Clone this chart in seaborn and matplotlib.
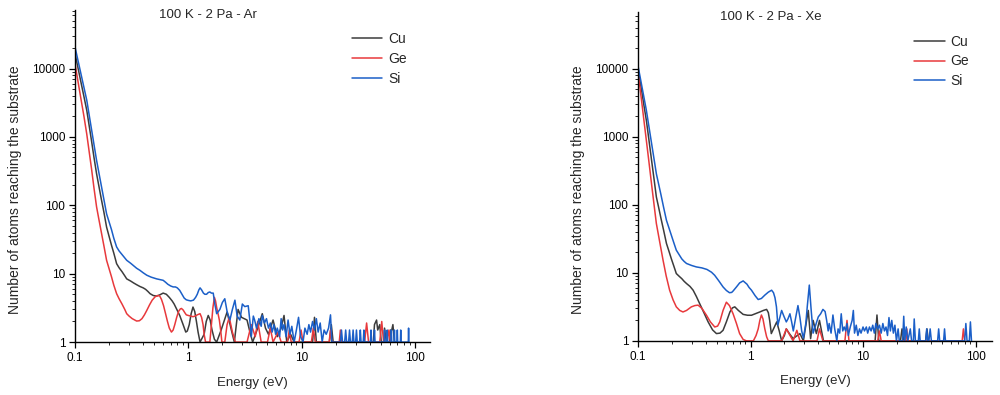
"""
Energy distribution of sputtered atoms reaching the substrate
100 K, 2 Pa, Ar vs Xe working gas
"""

import numpy as np
import pandas as pd
import matplotlib
matplotlib.use("Agg")
import matplotlib.pyplot as plt
from matplotlib.ticker import FuncFormatter, LogLocator, NullFormatter
import seaborn as sns

elements = ['Cu', 'Ge', 'Si']
colors = {'Cu': '#3c3c3c', 'Ge': '#e8393c', 'Si': '#1b5fc8'}
titles = ['100 K - 2 Pa - Ar', '100 K - 2 Pa - Xe']
x_ticks = [0.1, 1, 10, 100]
y_ticks = [1, 10, 100, 1000, 10000]

# ---- Ar panel ----
ar_cu_e = [0.1, 0.107, 0.113, 0.12, 0.127, 0.134, 0.14, 0.147, 0.155, 0.162,
           0.17, 0.18, 0.19, 0.2, 0.21, 0.22, 0.233, 0.245, 0.26, 0.275,
           0.286, 0.31, 0.33, 0.35, 0.374, 0.4, 0.42, 0.44, 0.46, 0.49,
           0.525, 0.56, 0.6, 0.64, 0.68, 0.72, 0.75, 0.8, 0.84, 0.9,
           0.95, 0.98, 1.02, 1.06, 1.1, 1.14, 1.18, 1.22, 1.27, 1.38,
           1.44, 1.5, 1.56, 1.62, 1.7, 1.78, 1.95, 2.2, 2.4, 2.55,
           2.75, 2.95, 3.3, 3.5, 3.7, 4.1, 4.5, 4.8, 5.1, 5.6,
           6.1, 6.6, 7.0, 7.4, 8.0, 8.6,
           12.5, 13.0, 13.5, 17.6, 18.3, 19.0,
           43, 44, 45.9, 47, 49, 50.5, 53, 54, 56, 60,
           61, 62.5, 64, 66, 70]
ar_cu_n = [16600, 9660, 6240, 3870, 2450, 1390, 870, 505, 290, 196,
           128, 79, 48, 35, 26, 20, 14, 12.2, 10.7, 9.3,
           8.4, 7.8, 7.3, 6.9, 6.5, 6.2, 5.9, 5.5, 5.1, 4.8,
           4.7, 4.9, 5.2, 5.0, 4.5, 4.0, 3.6, 2.9, 2.45, 1.8,
           1.4, 1.45, 1.8, 2.6, 3.25, 2.8, 2.0, 1.4, 1.0, 1.3,
           2.0, 2.45, 2.1, 1.5, 1.1, 1.0, 1.5, 2.75, 1.5, 1.0,
           3.0, 2.3, 2.1, 1.4, 1.0, 1.6, 2.6, 1.6, 1.3, 2.1,
           1.2, 1.6, 2.45, 1.0, 1.3, 1.0,
           1.0, 2.3, 1.0, 1.0, 1.8, 1.0,
           1.0, 1.8, 2.1, 1.5, 1.8, 1.0, 1.0, 1.6, 1.0, 1.0,
           1.5, 1.5, 1.8, 1.0, 1.0]

ar_ge_e = [0.1, 0.107, 0.113, 0.12, 0.127, 0.134, 0.14, 0.147, 0.155, 0.162,
           0.17, 0.18, 0.19, 0.2, 0.21, 0.22, 0.233, 0.245, 0.26, 0.275,
           0.286, 0.3, 0.32, 0.35, 0.37, 0.39, 0.41, 0.43, 0.455, 0.48,
           0.51, 0.54, 0.56, 0.58, 0.605, 0.63, 0.655, 0.68, 0.71, 0.735,
           0.76, 0.79, 0.82, 0.85, 0.87, 0.9, 0.93, 0.96, 1.0, 1.05,
           1.1, 1.15, 1.2, 1.27, 1.31, 1.35, 1.38, 1.42, 1.55, 1.6,
           1.65, 1.7, 1.74, 1.78, 1.83, 1.88, 1.93, 1.98, 2.1, 2.2,
           2.3, 2.45, 2.6, 3.3, 3.6, 3.9,
           4.1, 4.4, 5.0, 5.3, 5.6, 6.2, 6.6, 7.5, 7.8, 8.1,
           9.5, 9.9, 10.3, 12.2, 12.7, 13.2, 17.5, 18.0, 18.5, 21.5,
           22.0, 22.5, 36, 37.5, 39, 49, 51, 53, 57, 59,
           61]
ar_ge_n = [11800, 6050, 3550, 1990, 1100, 575, 340, 180, 95, 64,
           42, 25.5, 15.7, 11.8, 9.0, 6.8, 5.1, 4.3, 3.6, 3.0,
           2.6, 2.4, 2.2, 2.03, 2.05, 2.2, 2.5, 2.9, 3.5, 4.1,
           4.6, 4.8, 4.7, 4.2, 3.4, 2.6, 2.0, 1.6, 1.4, 1.5,
           1.8, 2.3, 2.8, 3.05, 3.1, 2.95, 2.7, 2.5, 2.45, 2.4,
           2.35, 2.4, 2.5, 2.6, 2.3, 1.8, 1.3, 1.0, 1.0, 1.8,
           3.2, 4.5, 4.0, 3.2, 2.6, 2.1, 1.5, 1.0, 1.0, 1.8,
           2.3, 1.4, 1.0, 1.0, 1.8, 1.2,
           2.0, 1.0, 1.0, 1.6, 1.0, 1.4, 1.0, 1.0, 1.5, 1.0,
           1.0, 1.5, 1.0, 1.0, 1.6, 1.0, 1.0, 1.5, 1.0, 1.0,
           1.5, 1.0, 1.0, 1.9, 1.0, 1.0, 2.0, 1.0, 1.0, 1.5,
           1.0]

ar_si_e = [0.1, 0.107, 0.113, 0.12, 0.127, 0.134, 0.14, 0.147, 0.155, 0.162,
           0.17, 0.18, 0.19, 0.2, 0.21, 0.22, 0.233, 0.245, 0.26, 0.275,
           0.286, 0.31, 0.33, 0.35, 0.374, 0.4, 0.43, 0.47, 0.525, 0.56,
           0.6, 0.63, 0.66, 0.7, 0.736, 0.77, 0.8, 0.84, 0.88, 0.92,
           0.96, 1.0, 1.05, 1.11, 1.16, 1.2, 1.24, 1.27, 1.31, 1.36,
           1.4, 1.45, 1.5, 1.55, 1.6, 1.66, 1.72, 1.78,
           1.9, 2.0, 2.1, 2.2, 2.33, 2.45, 2.58, 2.7, 2.85, 3.0,
           3.15, 3.38, 3.5, 3.6, 3.75, 3.85, 4.0, 4.2, 4.4, 4.5,
           4.7, 4.9, 5.1, 5.3, 5.5, 5.7, 5.9, 6.1, 6.4, 6.6,
           6.8, 7.0, 7.3, 7.6, 7.9, 8.2, 8.6, 9.0, 9.4, 9.8,
           10.3, 10.7, 11.2, 11.6, 12.0, 12.5, 13.0, 13.5, 14.0, 14.6,
           15.2, 15.8, 16.5, 17.3, 18.0, 18.5,
           22.0, 22.5, 23.0, 24.0, 24.5, 25.0, 26.0, 26.5, 27.0, 28.0,
           28.5, 29.0, 30.0, 30.5, 31.0, 32.5, 33.0, 33.5, 35.0, 35.5,
           36.0, 40.5, 41.0, 41.5, 43.5, 44.0, 44.5, 53.5, 54.0, 54.5,
           56.5, 57.0, 57.5, 61.5, 62.0, 62.5, 65.5, 66.0, 66.5, 69.5,
           70.0, 70.5, 74.5, 75.0, 75.5, 87.5, 88.0, 88.5]
ar_si_n = [20700, 12500, 8300, 5300, 3440, 2000, 1300, 776, 455, 309,
           200, 124, 75, 57, 44, 33, 24.6, 21.5, 19, 17,
           15.7, 14.2, 13, 12, 11.2, 10.3, 9.5, 8.9, 8.4, 8.2,
           8.0, 7.5, 7.0, 6.6, 6.4, 6.4, 6.2, 5.7, 5.0, 4.4,
           4.15, 4.07, 4.0, 4.1, 4.5, 5.0, 5.8, 6.2, 5.8, 5.2,
           5.0, 5.0, 5.3, 5.4, 5.2, 5.2, 3.5, 2.6,
           3.0, 3.8, 4.3, 2.8, 2.1, 3.0, 4.1, 2.4, 2.1, 3.6,
           3.3, 3.4, 2.0, 1.2, 2.4, 2.1, 1.6, 2.2, 1.7, 2.45,
           1.9, 2.2, 1.6, 1.9, 1.4, 1.8, 1.3, 1.6, 1.2, 2.2,
           1.5, 1.8, 1.2, 2.1, 1.3, 1.7, 1.0, 1.5, 2.3, 1.2,
           1.0, 1.6, 1.3, 1.8, 1.4, 2.0, 1.5, 2.2, 1.4, 1.9,
           1.0, 1.5, 1.3, 1.6, 2.5, 1.0,
           1.0, 1.5, 1.0, 1.0, 1.5, 1.0, 1.0, 1.5, 1.0, 1.0,
           1.5, 1.0, 1.0, 1.5, 1.0, 1.0, 1.5, 1.0, 1.0, 1.5,
           1.0, 1.0, 1.5, 1.0, 1.0, 1.5, 1.0, 1.0, 1.5, 1.0,
           1.0, 1.5, 1.0, 1.0, 1.5, 1.0, 1.0, 1.5, 1.0, 1.0,
           1.5, 1.0, 1.0, 1.5, 1.0, 1.0, 1.6, 1.0]

# ---- Xe panel ----
xe_cu_e = [0.1, 0.104, 0.108, 0.113, 0.1186, 0.125, 0.132, 0.139, 0.1456, 0.152,
           0.16, 0.169, 0.179, 0.188, 0.198, 0.208, 0.219, 0.232, 0.245, 0.257,
           0.27, 0.29, 0.309, 0.33, 0.354, 0.385, 0.42, 0.46, 0.498, 0.535,
           0.57, 0.61, 0.656, 0.69, 0.725, 0.78, 0.86, 0.94, 1.02, 1.1,
           1.21, 1.3, 1.39, 1.44, 1.48, 1.53, 1.6, 1.71, 1.8, 1.89,
           2.0, 2.08, 2.2, 2.39, 2.75, 2.95,
           3.15, 3.26, 3.42, 3.6, 3.85, 4.1, 4.45, 12.8, 13.3, 13.8,
           21.5, 22.2, 23.0, 36, 37, 38]
xe_cu_n = [10000, 6700, 4600, 2850, 1740, 900, 450, 235, 130, 94,
           63, 42, 27, 21, 16, 12.6, 9.75, 8.9, 8.2, 7.5,
           6.95, 6.3, 5.55, 4.5, 3.5, 2.6, 1.9, 1.45, 1.28, 1.3,
           1.43, 1.9, 2.66, 3.05, 3.16, 2.8, 2.45, 2.38, 2.38, 2.5,
           2.66, 2.8, 2.9, 2.6, 2.0, 1.28, 1.5, 1.9, 1.4, 1.0,
           1.2, 1.5, 1.3, 1.08, 1.28, 1.0,
           2.0, 2.8, 1.08, 2.0, 1.28, 2.0, 1.0, 1.0, 2.4, 1.0,
           1.0, 1.5, 1.0, 1.0, 1.5, 1.0]

xe_ge_e = [0.1, 0.104, 0.108, 0.113, 0.1186, 0.125, 0.132, 0.139, 0.1456, 0.155,
           0.167, 0.178, 0.191, 0.205, 0.219, 0.235, 0.251, 0.27, 0.298, 0.32,
           0.342, 0.37, 0.406, 0.44, 0.481, 0.51, 0.533, 0.57, 0.61, 0.65,
           0.7, 0.75, 0.8, 0.86, 0.92, 1.06, 1.12, 1.17, 1.21, 1.25,
           1.29, 1.34, 1.39, 1.44, 1.89, 2.08, 2.39, 2.58, 2.75, 3.9,
           4.1, 4.4, 6.9, 7.2, 7.5, 13.5, 14.0, 14.5, 24.0, 24.5,
           25.0, 76, 78, 80]
xe_ge_n = [9100, 5300, 3200, 1710, 885, 430, 200, 99, 53, 30,
           15.3, 9.0, 5.55, 4.0, 3.16, 2.8, 2.66, 2.8, 3.16, 3.3,
           3.35, 3.0, 2.38, 1.9, 1.6, 1.65, 1.9, 2.8, 3.7, 3.3,
           2.5, 1.8, 1.28, 1.05, 1.0, 1.0, 1.2, 1.5, 2.0, 2.4,
           2.1, 1.5, 1.15, 1.0, 1.0, 1.5, 1.0, 1.43, 1.0, 1.0,
           1.5, 1.0, 1.0, 2.0, 1.0, 1.0, 1.4, 1.0, 1.0, 1.5,
           1.0, 1.0, 1.5, 1.0]

xe_si_e = [0.1, 0.104, 0.108, 0.113, 0.1186, 0.125, 0.132, 0.139, 0.1456, 0.152,
           0.16, 0.169, 0.179, 0.188, 0.198, 0.208, 0.219, 0.232, 0.245, 0.257,
           0.27, 0.3, 0.33, 0.37, 0.41, 0.45, 0.48, 0.52, 0.57, 0.61,
           0.65, 0.68, 0.7, 0.75, 0.8, 0.86, 0.93, 0.97, 1.02, 1.1,
           1.17, 1.25, 1.34, 1.44, 1.54, 1.6, 1.65, 1.7, 1.75, 1.82,
           1.89, 1.98, 2.08, 2.15,
           2.24, 2.32, 2.4, 2.52, 2.64, 2.75, 2.85, 2.95, 3.1, 3.2,
           3.33, 3.45, 3.6, 3.75, 4.0, 4.2, 4.4, 4.6, 4.75, 4.9,
           5.0, 5.2, 5.4, 5.6, 5.85, 6.0, 6.2, 6.4, 6.6, 6.8,
           7.0, 7.2, 7.4, 7.7, 8.0, 8.2, 8.4, 8.7, 9.0, 9.3,
           9.6, 10.0, 10.3, 10.7, 11.0, 11.4, 11.8, 12.2, 12.6, 13.0,
           13.5, 14.0, 14.5, 15.0, 15.5, 16.0, 16.5, 17.0, 17.5, 18.0,
           18.6, 19.2, 19.8, 20.5, 21.0, 22.5, 23.0, 23.5, 24.2, 25.0,
           26.3, 27.0, 28.0, 28.5, 29.2, 31.0, 31.6, 32.2, 36.0, 36.8,
           37.6, 38.5, 39.5, 40.5, 46.0, 47.0, 48.0, 52.0, 53.0, 54.0,
           80.0, 82.0, 84.0, 88.0, 90.0, 92.0]
xe_si_n = [11000, 7800, 5600, 3750, 2450, 1420, 800, 468, 285, 207,
           140, 91, 59, 46, 35, 27.7, 21.5, 18.5, 16, 14.7,
           13.7, 12.8, 12.2, 11.8, 11.2, 10.2, 9.2, 7.7, 6.2, 5.5,
           5.1, 5.15, 5.4, 6.2, 7.1, 7.6, 6.8, 6.1, 5.55, 4.6,
           4.05, 4.2, 4.7, 5.2, 5.55, 5.1, 4.3, 3.16, 1.7, 2.2,
           2.8, 2.3, 1.9, 2.1,
           2.5, 1.9, 1.4, 2.2, 3.3, 2.2, 1.4, 1.1, 1.8, 3.3,
           6.6, 3.0, 1.3, 1.6, 2.25, 2.5, 2.9, 2.7, 2.0, 1.4,
           1.8, 1.3, 2.4, 1.5, 1.0, 1.5, 1.3, 2.5, 1.4, 1.6,
           1.4, 1.8, 1.2, 1.6, 2.0, 2.8, 1.3, 1.7, 1.2, 1.5,
           1.3, 1.6, 1.4, 1.6, 1.3, 1.6, 1.4, 1.7, 1.3, 1.8,
           1.5, 1.7, 1.3, 1.8, 1.4, 1.6, 1.2, 2.2, 1.4, 2.0,
           1.3, 1.7, 1.0, 1.5, 1.0, 1.0, 2.3, 1.0, 1.6, 1.0,
           1.5, 1.0, 1.0, 2.1, 1.0, 1.0, 1.5, 1.0, 1.0, 1.5,
           1.0, 1.0, 1.5, 1.0, 1.0, 1.5, 1.0, 1.0, 1.5, 1.0,
           1.0, 1.8, 1.0, 1.0, 1.9, 1.0]


def build_frame(series):
    parts = []
    for name, (e, n) in zip(elements, series):
        assert len(e) == len(n), name
        parts.append(pd.DataFrame({'energy': e, 'count': n, 'element': name}))
    return pd.concat(parts, ignore_index=True)


panels = [
    build_frame([(ar_cu_e, ar_cu_n), (ar_ge_e, ar_ge_n), (ar_si_e, ar_si_n)]),
    build_frame([(xe_cu_e, xe_cu_n), (xe_ge_e, xe_ge_n), (xe_si_e, xe_si_n)]),
]

sns.set_style('white')
plt.rcParams['font.family'] = ['Liberation Sans', 'DejaVu Sans']

fig = plt.figure(figsize=(10, 3.95), dpi=100)
axes = [fig.add_axes([0.075, 0.134, 0.355, 0.841]),
        fig.add_axes([0.638, 0.137, 0.354, 0.833])]
ylims = [(1, 72000), (1, 68000)]
xlims = [(0.1, 136), (0.1, 140)]
legend_tops = [0.933, 0.931]

for ax, df, title, ylim, xlim, ltop in zip(axes, panels, titles, ylims, xlims, legend_tops):
    sns.lineplot(data=df, x='energy', y='count', hue='element', hue_order=elements,
                 palette=colors, estimator=None, sort=False, linewidth=1.1,
                 legend=False, ax=ax)
    ax.set_xscale('log')
    ax.set_yscale('log')
    ax.set_xlim(*xlim)
    ax.set_ylim(*ylim)

    ax.set_xticks(x_ticks)
    ax.set_yticks(y_ticks)
    ax.xaxis.set_major_formatter(FuncFormatter(lambda v, p: f'{v:g}'))
    ax.yaxis.set_major_formatter(FuncFormatter(lambda v, p: f'{v:.0f}'))
    ax.xaxis.set_minor_locator(LogLocator(base=10, subs=np.arange(2, 10)))
    ax.yaxis.set_minor_locator(LogLocator(base=10, subs=np.arange(2, 10)))
    ax.xaxis.set_minor_formatter(NullFormatter())
    ax.yaxis.set_minor_formatter(NullFormatter())
    ax.tick_params(which='major', direction='out', length=4, width=0.9,
                   labelsize=8.5, colors='black', pad=3,
                   bottom=True, left=True)
    ax.tick_params(which='minor', direction='out', length=2, width=0.7,
                   bottom=True, left=True)

    for side in ['top', 'right']:
        ax.spines[side].set_visible(False)
    for side in ['left', 'bottom']:
        ax.spines[side].set_color('black')
        ax.spines[side].set_linewidth(1.0)

    ax.set_xlabel('Energy (eV)', fontsize=9.5)
    ax.set_ylabel('Number of atoms reaching the substrate', fontsize=10)
    ax.xaxis.set_label_coords(0.5, -0.105)
    ax.yaxis.set_label_coords(-0.15, 0.46)

    ax.text(0.375, 0.985, title, transform=ax.transAxes, ha='center',
            va='center', fontsize=9.5)

    ax.legend(ax.get_lines()[:3], elements, loc='upper left',
              bbox_to_anchor=(0.78, ltop), frameon=False, fontsize=10,
              handlelength=2.2, handletextpad=0.4, labelspacing=0.42,
              borderpad=0, borderaxespad=0)

fig.savefig('out.png', dpi=100, facecolor='white')
